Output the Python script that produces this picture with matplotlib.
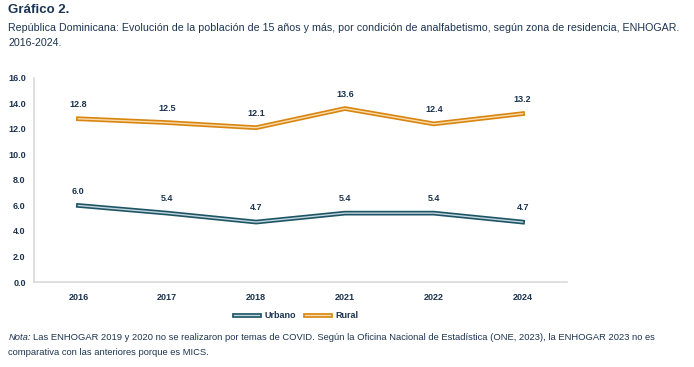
import matplotlib
matplotlib.use("Agg")
import matplotlib.pyplot as plt
import matplotlib.patheffects as pe
from matplotlib.lines import Line2D

plt.rcParams['font.family'] = ['Liberation Sans', 'DejaVu Sans']

anios = ["2016", "2017", "2018", "2021", "2022", "2024"]
urbano = [6.0, 5.4, 4.7, 5.4, 5.4, 4.7]
rural = [12.8, 12.5, 12.1, 13.6, 12.4, 13.2]

col_urb = "#1d5566"
col_urb_c = "#c3d6dc"
col_rur = "#d9850f"
col_rur_c = "#f7dcae"
texto = "#1c3450"

fig = plt.figure(figsize=(6.94, 3.67), dpi=100)
ax = fig.add_axes([0.049, 0.2316, 0.768, 0.556])

x = range(len(anios))
for serie, c1, c2 in [(urbano, col_urb, col_urb_c), (rural, col_rur, col_rur_c)]:
    ax.plot(x, serie, color=c1, lw=3.4, solid_joinstyle='miter', zorder=2)
    ax.plot(x, serie, color=c2, lw=1.0, solid_joinstyle='miter', zorder=3)
    for i, v in enumerate(serie):
        ax.annotate(f"{v:.1f}", (i, v), xytext=(0, 7), textcoords="offset points",
                    ha="center", va="bottom", fontsize=6.5, fontweight="bold", color=texto)

ax.set_xlim(-0.5, len(anios) - 0.5)
ax.set_ylim(0, 16)
yt = [0, 2, 4, 6, 8, 10, 12, 14, 16]
ax.set_yticks(yt)
ax.set_yticklabels([f"{v:.1f}" for v in yt])
ax.set_xticks(list(x))
ax.set_xticklabels(anios)
for lbl in ax.get_xticklabels() + ax.get_yticklabels():
    lbl.set_fontweight("bold")
    lbl.set_fontsize(6.5)
    lbl.set_color(texto)
ax.tick_params(axis='x', length=0, pad=8)
ax.tick_params(axis='y', length=0, pad=6)
for s in ["top", "right"]:
    ax.spines[s].set_visible(False)
for s in ["left", "bottom"]:
    ax.spines[s].set_color("#d9d9d9")
    ax.spines[s].set_linewidth(1.2)

# leyenda con linea doble
h_urb = Line2D([], [], color=col_urb_c, lw=1.0,
               path_effects=[pe.Stroke(linewidth=3.4, foreground=col_urb), pe.Normal()])
h_rur = Line2D([], [], color=col_rur_c, lw=1.0,
               path_effects=[pe.Stroke(linewidth=3.4, foreground=col_rur), pe.Normal()])
leg = fig.legend([h_urb, h_rur], ["Urbano", "Rural"], loc="center", bbox_to_anchor=(0.427, 0.139),
                 ncol=2, frameon=False, fontsize=6.5, handlelength=2.8, columnspacing=1.0, handletextpad=0.6)
for t in leg.get_texts():
    t.set_fontweight("bold")
    t.set_color(texto)

fig.text(0.012, 0.972, "Gráfico 2.", fontsize=9.5, fontweight="bold", color=texto, va="center")
fig.text(0.012, 0.925, "República Dominicana: Evolución de la población de 15 años y más, por condición de analfabetismo, según zona de residencia, ENHOGAR.",
         fontsize=7.7, color=texto, va="center")
fig.text(0.012, 0.882, "2016-2024.", fontsize=7.7, color=texto, va="center")

fig.text(0.012, 0.081, "Nota:", fontsize=6.75, style="italic", color=texto, va="center")
fig.text(0.048, 0.081, "Las ENHOGAR 2019 y 2020 no se realizaron por temas de COVID. Según la Oficina Nacional de Estadística (ONE, 2023), la ENHOGAR 2023 no es",
         fontsize=6.75, color=texto, va="center")
fig.text(0.012, 0.040, "comparativa con las anteriores porque es MICS.", fontsize=6.75, color=texto, va="center")

fig.savefig("out.png", dpi=100)
